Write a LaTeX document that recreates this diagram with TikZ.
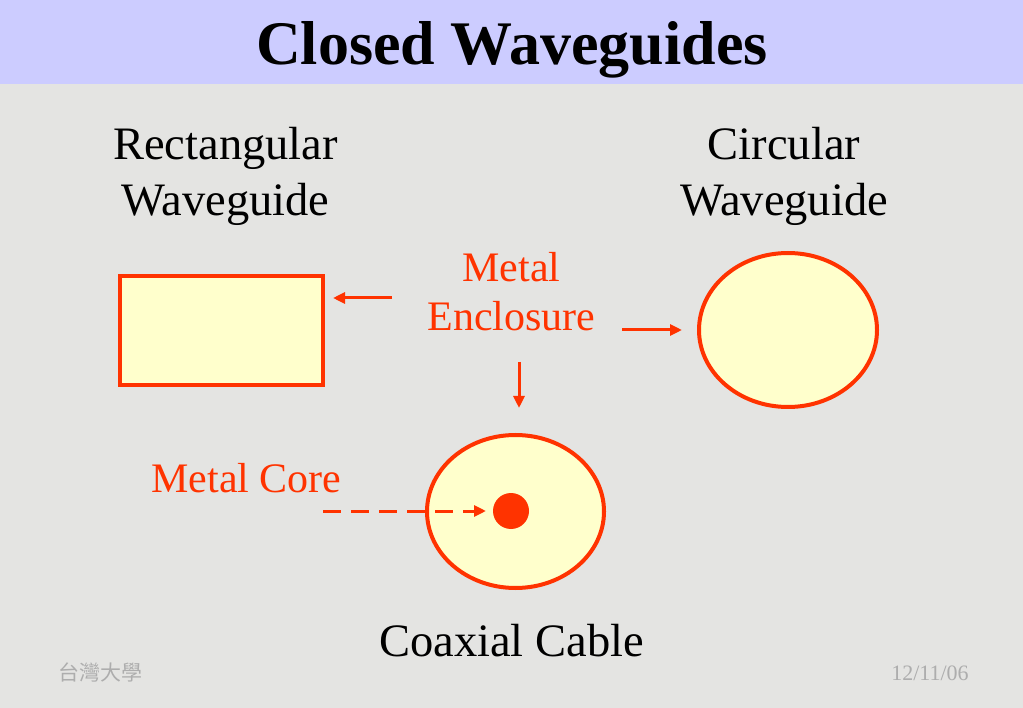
\documentclass[tikz,border=0pt]{standalone}
\usepackage{fontspec}
\setmainfont{Liberation Serif}
\newfontfamily\cjk{Noto Sans CJK TC}
\usetikzlibrary{arrows.meta,shapes.geometric}
\definecolor{bgc}{HTML}{E4E4E2}
\definecolor{hdr}{HTML}{CCCCFF}
\definecolor{redc}{HTML}{FF3300}
\definecolor{fillc}{HTML}{FFFFCC}
\definecolor{footc}{HTML}{ADADAD}
\tikzset{
  big/.style={font=\fontsize{46.5}{56}\selectfont, anchor=base, inner sep=0pt, text=black},
  redtxt/.style={font=\fontsize{42}{49}\selectfont, anchor=base, inner sep=0pt, text=redc},
  foot/.style={font=\fontsize{20}{24}\selectfont, anchor=base, inner sep=0pt, text=footc},
  guide/.style={draw=redc, fill=fillc, line width=4pt, inner sep=0pt, outer sep=0pt},
  pointer/.style={draw=redc, line width=3pt, -{Triangle[length=12pt,width=11pt]}},
  dpointer/.style={pointer, dash pattern=on 18pt off 10pt},
}
\begin{document}
\begin{tikzpicture}[x=1pt,y=-1pt]
\useasboundingbox (0,0) rectangle (1023,708);
\fill[bgc] (0,0) rectangle (1023,708);
\fill[hdr] (0,0) rectangle (1023,84);
\node[font=\fontsize{62}{70}\selectfont\bfseries, anchor=base, inner sep=0pt] (title) at (512,65) {Closed Waveguides};

\node[big] (rl1) at (225.5,160) {Rectangular};
\node[big] (rl2) at (225.5,216) {Waveguide};
\node[big] (cl1) at (784,160) {Circular};
\node[big] (cl2) at (784,216) {Waveguide};
\node[big] (xl) at (511.5,656) {Coaxial Cable};

\node[redtxt] (me1) at (511.5,282) {Metal};
\node[redtxt] (me2) at (511.5,331) {Enclosure};
\node[redtxt] (mc) at (246.5,493) {Metal Core};

\node[guide, rectangle, minimum width=203pt, minimum height=109pt] (rect) at (221.5,330.5) {};
\node[guide, ellipse, minimum width=178pt, minimum height=154pt] (circ) at (788,330) {};
\node[guide, ellipse, minimum width=177pt, minimum height=153pt] (coax) at (515.5,511.5) {};
\node[circle, fill=redc, inner sep=0pt, minimum size=36pt] (core) at (511,511) {};

\coordinate (a1s) at (392,298);
\coordinate (a1e) at (333,298);
\coordinate (a2s) at (622,330);
\coordinate (a2e) at (682,330);
\coordinate (a3s) at (519,362);
\coordinate (a3e) at (519,408);
\coordinate (a4s) at (323,511);
\coordinate (a4e) at (486,511);
\draw[pointer] (a1s) -- (a1e);
\draw[pointer] (a2s) -- (a2e);
\draw[pointer] (a3s) -- (a3e);
\draw[dpointer] (a4s) -- (a4e);

\node[foot, font=\fontsize{21}{24}\selectfont\cjk] (f1) at (100,680) {台灣大學};
\node[foot, font=\fontsize{22}{24}\selectfont] (f2) at (930,680) {12/11/06};
\end{tikzpicture}
\end{document}
